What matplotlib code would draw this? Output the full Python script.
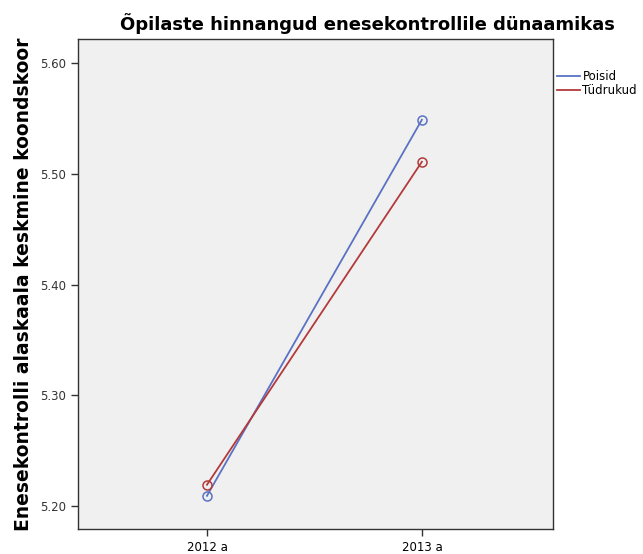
import matplotlib.pyplot as plt
from matplotlib.lines import Line2D

years = ['2012 a', '2013 a']
poisid = [5.209, 5.549]
tudrukud = [5.219, 5.511]
yticks = [5.20, 5.30, 5.40, 5.50, 5.60]
blue = '#5b72c4'
red = '#b23a3a'

fig = plt.figure(figsize=(6.43, 5.54), dpi=100)
ax = fig.add_axes([0.1213, 0.0451, 0.7387, 0.8845])
ax.set_facecolor('#f0f0f0')

x = list(range(len(years)))
ax.plot(x, poisid, color=blue, lw=1.3, marker='o', markersize=6.5,
        markerfacecolor='none', markeredgewidth=1.1)
ax.plot(x, tudrukud, color=red, lw=1.3, marker='o', markersize=6.5,
        markerfacecolor='none', markeredgewidth=1.1)

ax.set_xlim(-0.6, 1.61)
ax.set_ylim(5.179, 5.622)
ax.set_xticks(x)
ax.set_xticklabels(years, fontsize=8.5)
ax.set_yticks(yticks)
ax.set_yticklabels(['%.2f' % v for v in yticks], fontsize=8.5, color='#333333')
ax.tick_params(direction='out', length=5, width=1, color='#333333')
for s in ax.spines.values():
    s.set_color('#333333')
    s.set_linewidth(1)

ax.set_ylabel('Enesekontrolli alaskaala keskmine koondskoor', fontsize=13.5,
              fontweight='bold', labelpad=5)
fig.text(0.571, 0.958, 'Õpilaste hinnangud enesekontrollile dünaamikas',
         ha='center', va='center', fontsize=13, fontweight='bold')

handles = [Line2D([], [], color=blue, lw=1.3), Line2D([], [], color=red, lw=1.3)]
ax.legend(handles, ['Poisid', 'Tüdrukud'], loc='upper left',
          bbox_to_anchor=(1.0, 0.943), frameon=False, fontsize=8.5,
          handlelength=2.0, handletextpad=0.2, borderaxespad=0.1,
          borderpad=0.2, labelspacing=0.05)

fig.savefig('out.png', dpi=100)
